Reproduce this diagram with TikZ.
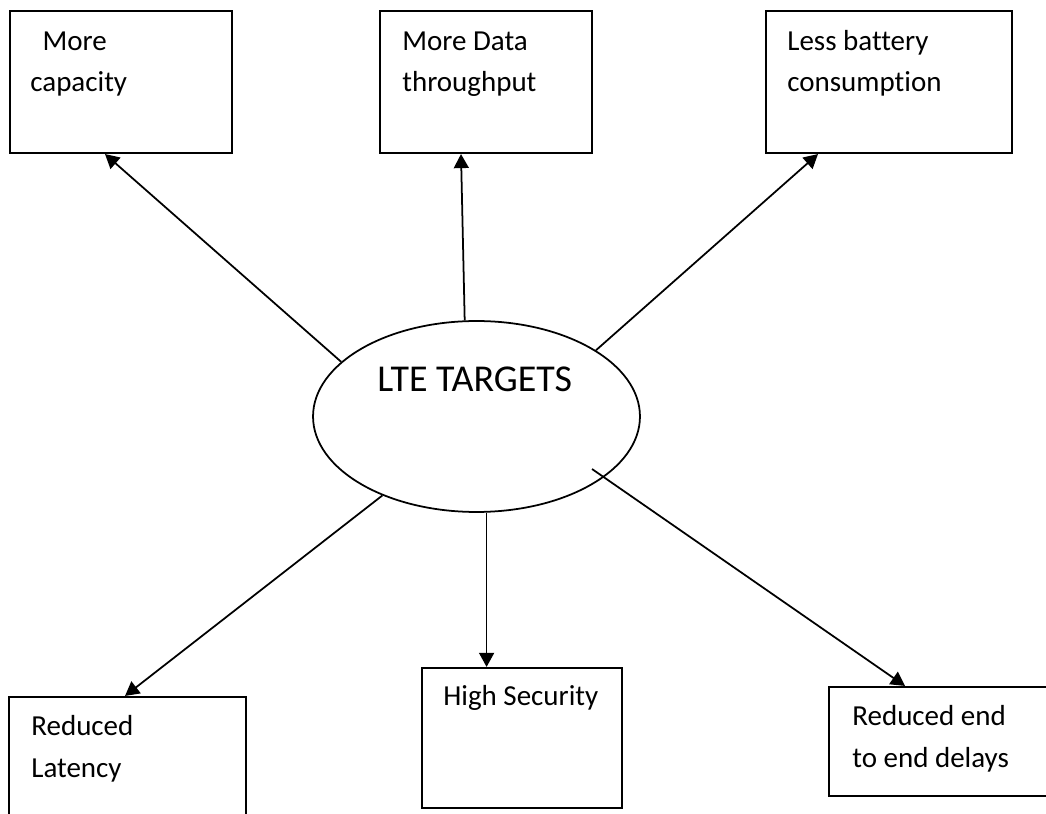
\documentclass[tikz,border=0pt]{standalone}
\usepackage{fontspec}
\setmainfont{Carlito}[Ligatures = NoCommon]
\usetikzlibrary{arrows.meta, shapes.geometric, fit}

\tikzset{
	box/.style = {draw, line width = 1.2pt, inner sep = 0pt},
	txt/.style = {inner sep = 0pt, anchor = base west, align = left, font = \fontsize{16.5}{23.8}\selectfont},
	arr/.style = {-{Triangle[length = 8pt, width = 8.5pt]}, line width = 1pt}
}

\begin{document}
\begin{tikzpicture}[x = 0.02cm, y = -0.02cm]

	% Frame
	
	\useasboundingbox (0, 0) rectangle (1046, 814);
	\clip (0, 0) rectangle (1046, 814);
	
	% Centre
	
	\node [ellipse, draw, line width = 1pt, minimum width = 6.54cm, minimum height = 3.82cm] (lte) at (476.5, 416.5) {};
	\node [inner sep = 0pt, anchor = base west, font = \fontsize{21.6}{25}\selectfont] (ltetxt) at (377, 392) {LTE TARGETS};
	
	% Target boxes + texts (base = last line)
	
	\node [box, fit = {(10, 11) (232, 153)}] (cap) {};
	\node [box, fit = {(380, 11) (592, 153)}] (thr) {};
	\node [box, fit = {(766, 11) (1012, 153)}] (bat) {};
	\node [box, fit = {(9, 697) (246, 830)}] (lat) {};
	\node [box, fit = {(422, 668) (622, 808)}] (sec) {};
	\node [box, fit = {(829, 687) (1060, 796)}] (del) {};
	
	\node [txt] (captxt) at (30, 92) {\hspace*{7pt}More\\capacity};
	\node [txt] (thrtxt) at (402, 92) {More Data\\throughput};
	\node [txt] (battxt) at (787, 92) {Less battery\\consumption};
	\node [txt] (lattxt) at (31, 777) {Reduced\\Latency};
	\node [txt] (sectxt) at (443, 705) {High Security};
	\node [txt] (deltxt) at (852, 767) {Reduced end\\to end delays};
	
	% Arrows
	
	\coordinate (brstart) at (592, 469);
	
	\draw [arr] (lte.158.5) -- (105, 0 |- cap.south);
	\draw [arr] (lte.97) -- (461, 0 |- thr.south);
	\draw [arr] (lte.29) -- (818, 0 |- bat.south);
	\draw [arr] (lte.220) -- (125, 0 |- lat.north);
	\draw [arr] (lte.276) -- (lte.276 |- sec.north);
	\draw [arr] (brstart) -- (905, 0 |- del.north);
	
\end{tikzpicture}
\end{document}
